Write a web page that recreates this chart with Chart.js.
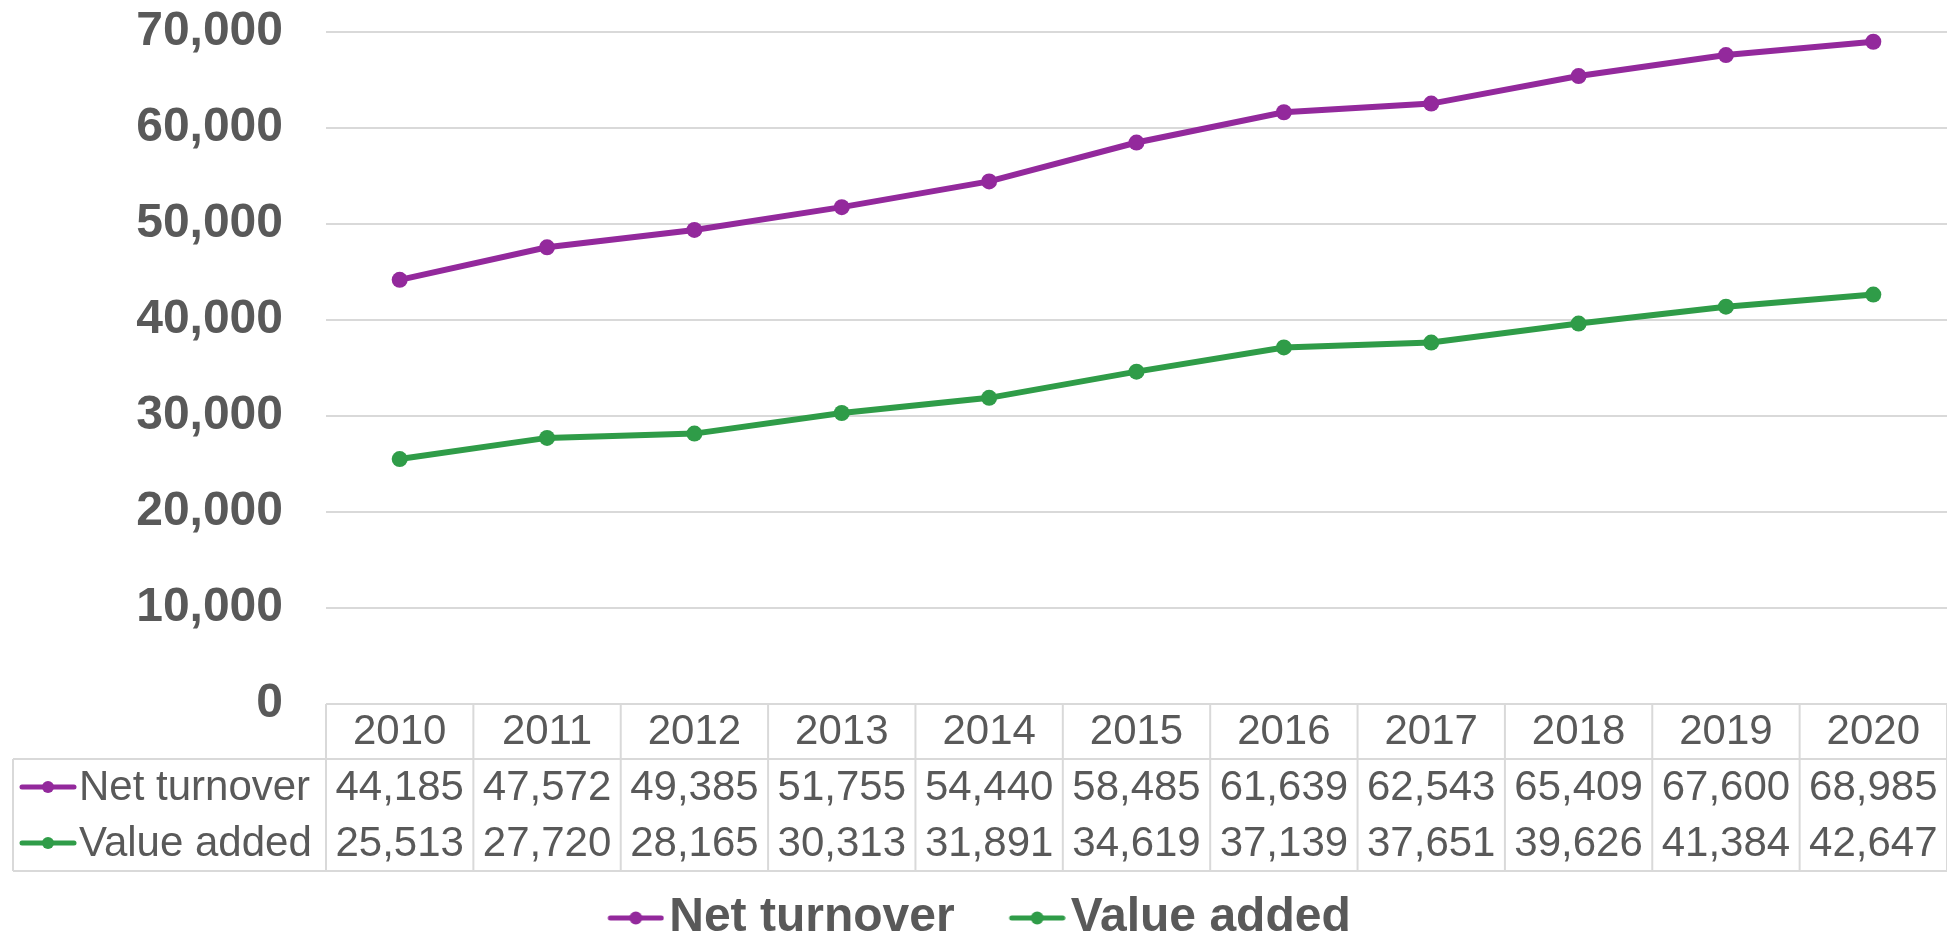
<!DOCTYPE html>
<html>
<head>
<meta charset="utf-8">
<script src="https://cdn.jsdelivr.net/npm/chart.js@4"></script>
<style>
  html, body { margin: 0; padding: 0; background: #fff; }
  #wrap { width: 1947px; height: 939px; }
</style>
</head>
<body>
<div id="wrap"><canvas id="grafico"></canvas></div>
<script>
const years = ['2010', '2011', '2012', '2013', '2014', '2015', '2016', '2017', '2018', '2019', '2020'];
const netTurnover = [44185, 47572, 49385, 51755, 54440, 58485, 61639, 62543, 65409, 67600, 68985];
const valueAdded = [25513, 27720, 28165, 30313, 31891, 34619, 37139, 37651, 39626, 41384, 42647];
const yTicks = [0, 10000, 20000, 30000, 40000, 50000, 60000, 70000];

const purple = '#93299c';
const green = '#2f9c48';
const grey = '#595959';
const gridGrey = '#d9d9d9';
const font = '"Liberation Sans", Arial, sans-serif';

// legend key: line with a dot, drawn on a small canvas
function makeKey(color, w, h, visible) {
    const c = document.createElement('canvas');
    c.width = w;
    c.height = h;
    const g = c.getContext('2d');
    g.strokeStyle = color;
    g.fillStyle = color;
    g.lineWidth = 5;
    g.lineCap = 'round';
    g.beginPath();
    g.moveTo(w - visible + 3, h / 2);
    g.lineTo(w - 3, h / 2);
    g.stroke();
    g.beginPath();
    g.arc(w - visible / 2, h / 2, 6.5, 0, Math.PI * 2);
    g.fill();
    return c;
}
const legendKeys = [makeKey(purple, 130, 20, 57), makeKey(green, 130, 20, 57)];

function drawKey(ctx, color, x1, x2, y) {
    ctx.strokeStyle = color;
    ctx.fillStyle = color;
    ctx.lineWidth = 5;
    ctx.lineCap = 'round';
    ctx.beginPath();
    ctx.moveTo(x1, y);
    ctx.lineTo(x2, y);
    ctx.stroke();
    ctx.beginPath();
    ctx.arc((x1 + x2) / 2, y, 6, 0, Math.PI * 2);
    ctx.fill();
}

// data table under the plot, drawn in the x axis area
const dataTable = {
    id: 'dataTable',
    afterDraw(chart) {
        const ctx = chart.ctx;
        const x = chart.scales.x;
        const n = years.length;
        const colW = (x.right - x.left) / n;
        const top = x.top;
        const yearBottom = top + 55;
        const bottom = top + 167;
        const rowH = (bottom - yearBottom) / 2;
        const tableLeft = 13;

        ctx.save();
        ctx.strokeStyle = gridGrey;
        ctx.lineWidth = 2;
        const line = (x1, y1, x2, y2) => {
            ctx.beginPath();
            ctx.moveTo(x1, y1);
            ctx.lineTo(x2, y2);
            ctx.stroke();
        };
        line(x.left, top, x.right, top);
        line(tableLeft, yearBottom, x.right, yearBottom);
        line(tableLeft, bottom, x.right, bottom);
        line(tableLeft, yearBottom, tableLeft, bottom);
        for (let i = 0; i <= n; i++) {
            const xx = x.left + i * colW;
            line(xx, top, xx, bottom);
        }

        ctx.fillStyle = grey;
        ctx.font = '42px ' + font;
        ctx.textAlign = 'center';
        ctx.textBaseline = 'middle';
        years.forEach((yr, i) => ctx.fillText(yr, x.getPixelForValue(i), (top + yearBottom) / 2 + 1));

        chart.data.datasets.forEach((ds, r) => {
            const cy = yearBottom + rowH * (r + 0.5);
            ctx.fillStyle = grey;
            ctx.textAlign = 'center';
            ds.data.forEach((v, i) => ctx.fillText(v.toLocaleString('en-US'), x.getPixelForValue(i), cy + 1));
            drawKey(ctx, ds.borderColor, 22, 74, cy);
            ctx.fillStyle = grey;
            ctx.textAlign = 'left';
            ctx.fillText(ds.label, 79, cy + 1);
        });
        ctx.restore();
    }
};

const ctx = document.getElementById('grafico').getContext('2d');
new Chart(ctx, {
    type: 'line',
    data: {
        labels: years,
        datasets: [
            {
                label: 'Net turnover',
                data: netTurnover,
                borderColor: purple,
                backgroundColor: purple,
                borderWidth: 6,
                pointRadius: 8,
                pointBorderWidth: 0,
                pointBackgroundColor: purple
            },
            {
                label: 'Value added',
                data: valueAdded,
                borderColor: green,
                backgroundColor: green,
                borderWidth: 6,
                pointRadius: 8,
                pointBorderWidth: 0,
                pointBackgroundColor: green
            }
        ]
    },
    options: {
        responsive: true,
        maintainAspectRatio: false,
        animation: false,
        layout: {
            autoPadding: false,
            padding: { top: 32, left: -48, right: -5, bottom: -13 }
        },
        plugins: {
            tooltip: { enabled: false },
            legend: {
                position: 'bottom',
                labels: {
                    color: grey,
                    font: { family: font, size: 48, weight: 'bold' },
                    usePointStyle: true,
                    pointStyleWidth: 92,
                    padding: 0,
                    generateLabels: chart => Chart.defaults.plugins.legend.labels.generateLabels(chart)
                        .map((l, i) => ({ ...l, pointStyle: legendKeys[i] }))
                }
            }
        },
        scales: {
            x: {
                offset: true,
                grid: { display: false },
                border: { display: false },
                ticks: { display: false },
                afterFit: scale => { scale.height = 190; }
            },
            y: {
                min: 0,
                max: 70000,
                afterBuildTicks: scale => { scale.ticks = yTicks.map(v => ({ value: v })); },
                grid: { color: gridGrey, lineWidth: 2, drawTicks: false },
                border: { display: false },
                ticks: {
                    color: grey,
                    padding: 43,
                    font: { family: font, size: 48, weight: 'bold' },
                    callback: v => v.toLocaleString('en-US')
                },
                afterFit: scale => {
                    scale.width = 374;
                    scale.paddingTop = 0;
                    scale.paddingBottom = 0;
                }
            }
        }
    },
    plugins: [dataTable]
});
</script>
</body>
</html>
